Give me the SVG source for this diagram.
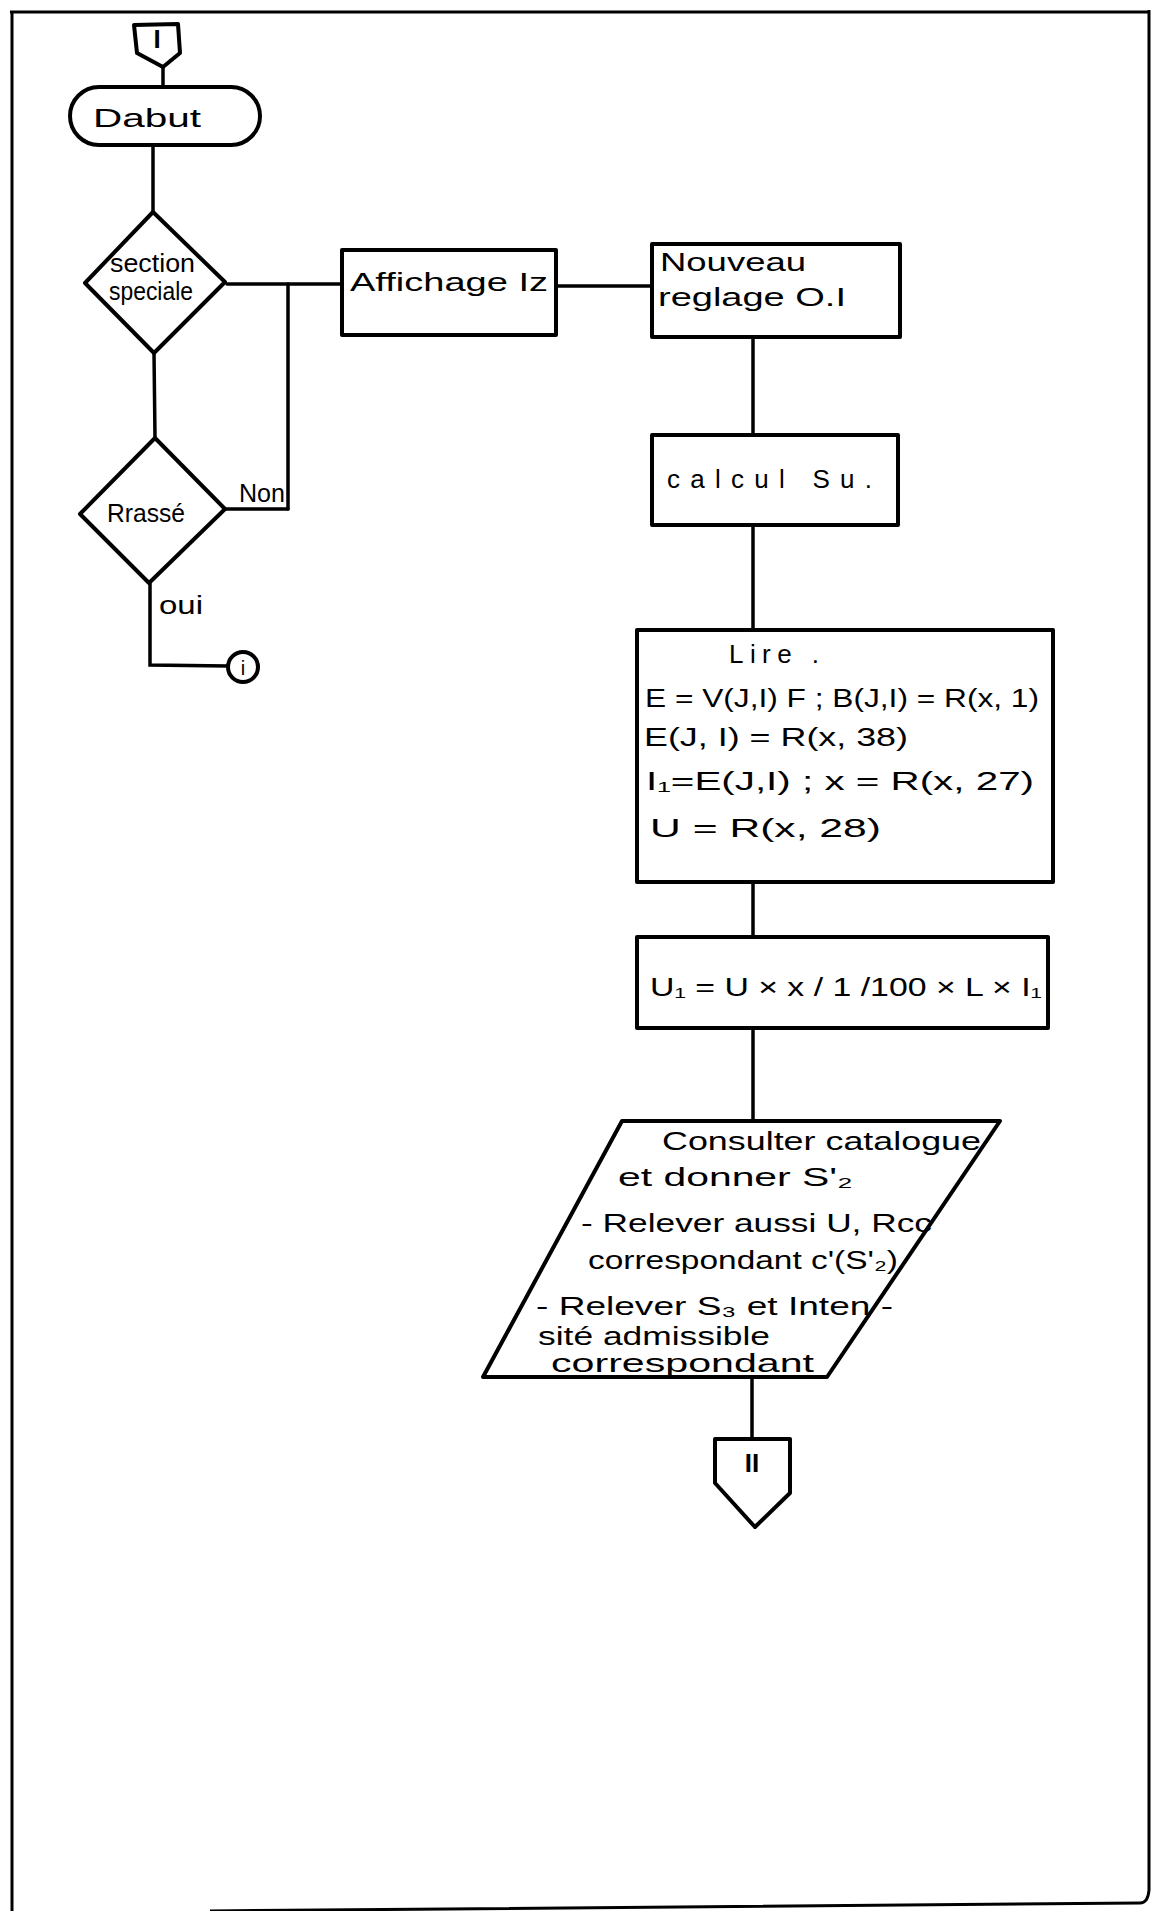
<svg xmlns="http://www.w3.org/2000/svg" width="1164" height="1911" viewBox="0 0 1164 1911">
<style>
.s{fill:none;stroke:#000;stroke-width:4;stroke-linejoin:round;stroke-linecap:round}
.c{fill:none;stroke:#000;stroke-width:3.5;stroke-linecap:round}
.b{fill:none;stroke:#000;stroke-width:3}
text{font-family:"Liberation Sans",Arial,sans-serif;fill:#000;font-size:26px}
.m{text-anchor:middle}
.sm{font-size:20px}
</style>
<rect width="1164" height="1911" fill="#fff"/>
<g id="border">
<path class="b" d="M10 12 L1148 12 M12 12 L12 1911 M1149 10 L1149 1890 Q1148 1903 1140 1903 L210 1911"/>
</g>
<g id="connectors">
<path class="c" d="M163 67 L163 86"/>
<path class="c" d="M153 145 L153 212"/>
<path class="c" d="M227 284 L342 284"/>
<path class="c" d="M288 284 L288 509"/>
<path class="c" d="M225 509 L288 509"/>
<path class="c" d="M154 353 L155 438"/>
<path class="c" d="M150 583 L150 665 L228 666"/>
<path class="c" d="M556 286 L651 286"/>
<path class="c" d="M753 337 L753 435"/>
<path class="c" d="M753 525 L753 630"/>
<path class="c" d="M753 882 L753 937"/>
<path class="c" d="M753 1028 L753 1121"/>
<path class="c" d="M752 1377 L752 1439"/>
<text x="239" y="502" font-size="22" textLength="46" lengthAdjust="spacingAndGlyphs">Non</text>
<text x="159" y="614" font-size="24" textLength="44" lengthAdjust="spacingAndGlyphs">oui</text>
</g>
<g id="conn_I">
<path class="s" d="M134 25 L178 24 L180 53 L163 67 L137 53 Z"/>
<text x="157" y="48" class="m" font-weight="bold" font-size="22">I</text>
</g>
<g id="debut">
<rect class="s" x="70" y="87" width="190" height="58" rx="29"/>
<text x="93" y="127" font-size="30" textLength="108" lengthAdjust="spacingAndGlyphs">Dabut</text>
</g>
<g id="section_speciale">
<path class="s" d="M153 212 L225 282 L154 353 L85 283 Z"/>
<text x="110" y="272" font-size="22" textLength="85" lengthAdjust="spacingAndGlyphs">section</text>
<text x="109" y="300" font-size="22" textLength="84" lengthAdjust="spacingAndGlyphs">speciale</text>
</g>
<g id="passe">
<path class="s" d="M155 438 L225 509 L149 583 L80 514 Z"/>
<text x="107" y="522" font-size="23" textLength="78" lengthAdjust="spacingAndGlyphs">Rrassé</text>
</g>
<g id="conn_i">
<circle class="s" cx="243" cy="667" r="15"/>
<text x="243" y="675" class="sm m">i</text>
</g>
<g id="affichage">
<rect class="s" x="342" y="250" width="214" height="85"/>
<text x="350" y="291" font-size="30" textLength="198" lengthAdjust="spacingAndGlyphs">Affichage  Iz</text>
</g>
<g id="nouveau_reglage">
<rect class="s" x="652" y="244" width="248" height="93"/>
<text x="660" y="271" font-size="30" textLength="146" lengthAdjust="spacingAndGlyphs">Nouveau</text>
<text x="658" y="306" font-size="30" textLength="188" lengthAdjust="spacingAndGlyphs">reglage  O.I</text>
</g>
<g id="calcul_su">
<rect class="s" x="652" y="435" width="246" height="90"/>
<text x="667" y="488" font-size="36" textLength="205" lengthAdjust="spacing">calcul  Su.</text>
</g>
<g id="lire">
<rect class="s" x="637" y="630" width="416" height="252"/>
<text x="729" y="663" font-size="28" textLength="90" lengthAdjust="spacing">Lire .</text>
<text x="645" y="707" font-size="28" textLength="394" lengthAdjust="spacingAndGlyphs">E = V(J,I) F  ;  B(J,I) = R(x, 1)</text>
<text x="644" y="746" font-size="30" textLength="264" lengthAdjust="spacingAndGlyphs">E(J, I) = R(x, 38)</text>
<text x="646" y="790" font-size="30" textLength="388" lengthAdjust="spacingAndGlyphs">I₁=E(J,I)  ;  x = R(x, 27)</text>
<text x="650" y="837" font-size="30" textLength="231" lengthAdjust="spacingAndGlyphs">U =  R(x, 28)</text>
</g>
<g id="u1">
<rect class="s" x="637" y="937" width="411" height="91"/>
<text x="650" y="996" font-size="30" textLength="392" lengthAdjust="spacingAndGlyphs">U₁ = U × x / 1 /100 × L × I₁</text>
</g>
<g id="catalogue">
<path class="s" d="M622 1121 L1000 1121 L827 1377 L483 1377 Z"/>
<text x="662" y="1150" font-size="27" textLength="319" lengthAdjust="spacingAndGlyphs">Consulter  catalogue</text>
<text x="618" y="1186" font-size="27" textLength="235" lengthAdjust="spacingAndGlyphs">et donner  S'₂</text>
<text x="581" y="1232" font-size="27" textLength="351" lengthAdjust="spacingAndGlyphs">- Relever aussi U, Rcc</text>
<text x="588" y="1269" font-size="27" textLength="310" lengthAdjust="spacingAndGlyphs">correspondant c'(S'₂)</text>
<text x="536" y="1315" font-size="27" textLength="357" lengthAdjust="spacingAndGlyphs">- Relever S₃ et Inten -</text>
<text x="538" y="1345" font-size="21" textLength="232" lengthAdjust="spacingAndGlyphs">sité admissible</text>
<text x="551" y="1372" font-size="21" textLength="263" lengthAdjust="spacingAndGlyphs">correspondant</text>
</g>
<g id="conn_II">
<path class="s" d="M715 1439 L790 1439 L790 1493 L755 1527 L715 1483 Z"/>
<text x="752" y="1472" class="m" font-weight="bold">II</text>
</g>
</svg>
